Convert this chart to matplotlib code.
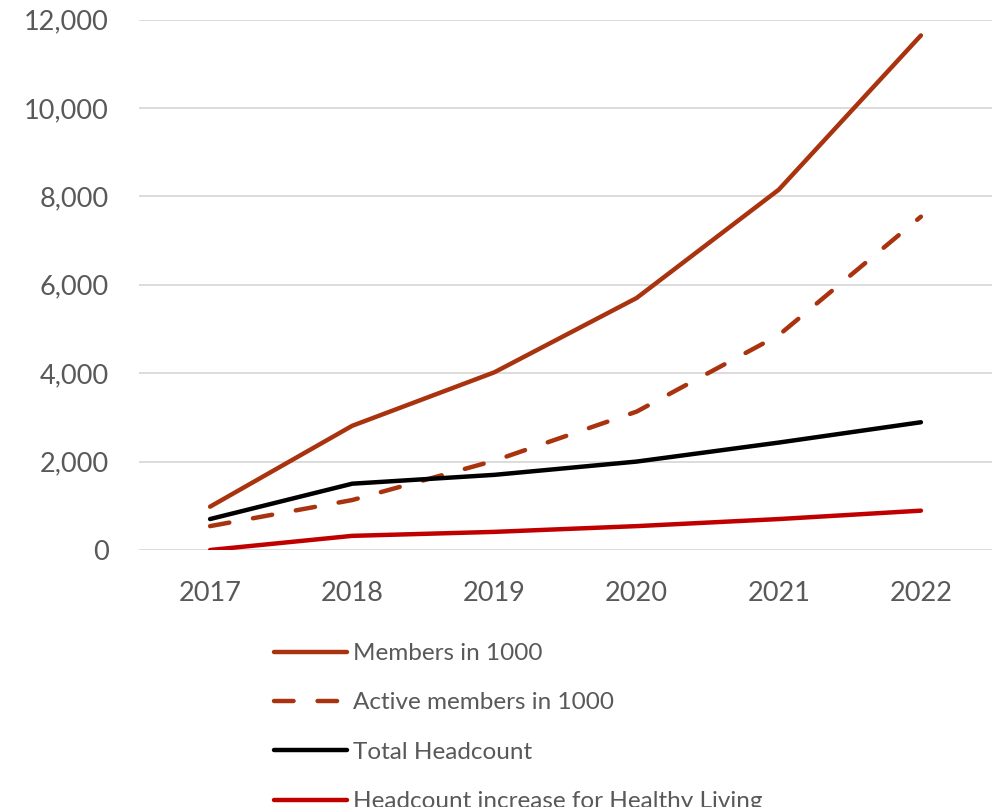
import matplotlib
matplotlib.use("Agg")
import matplotlib.pyplot as plt
from matplotlib.ticker import FuncFormatter

years = ["2017", "2018", "2019", "2020", "2021", "2022"]
members = [980, 2810, 4020, 5700, 8150, 11640]
active_members = [540, 1130, 2020, 3130, 4860, 7540]
total_headcount = [700, 1500, 1700, 2000, 2430, 2890]
healthy_living = [0, 320, 410, 540, 700, 890]
yticks = [0, 2000, 4000, 6000, 8000, 10000, 12000]

plt.rcParams['font.family'] = ['Lato', 'DejaVu Sans']

W, H = 995, 807
fig = plt.figure(figsize=(W / 100, H / 100), dpi=100)
ax = fig.add_axes([139 / W, 1 - 550 / H, (992 - 139) / W, (550 - 19.5) / H])

x = list(range(len(years)))
lw = 3.2
l1, = ax.plot(x, members, color="#A9330F", lw=lw, solid_capstyle="round", solid_joinstyle="round",
              label="Members in 1000")
l2, = ax.plot(x, active_members, color="#A9330F", lw=lw, dash_capstyle="round",
              dashes=(4.4, 5.4), label="Active members in 1000")
l3, = ax.plot(x, total_headcount, color="#000000", lw=lw, solid_capstyle="round", solid_joinstyle="round",
              label="Total Headcount")
l4, = ax.plot(x, healthy_living, color="#C00000", lw=lw, solid_capstyle="round", solid_joinstyle="round",
              label="Headcount increase for Healthy Living")

ax.set_xlim(-0.5, len(years) - 0.5)
ax.set_ylim(0, 12000)
ax.set_xticks(x)
ax.set_xticklabels(years)
ax.set_yticks(yticks)
ax.yaxis.set_major_formatter(FuncFormatter(lambda v, p: f"{int(v):,}"))
ax.grid(axis="y", color="#D9D9D9", lw=1.3)
ax.set_axisbelow(True)
for s in ax.spines.values():
    s.set_visible(False)
ax.tick_params(axis="both", length=0, labelsize=19.5, colors="#595959")
ax.tick_params(axis="y", pad=22)
ax.tick_params(axis="x", pad=22)

leg = fig.legend(handles=[l1, l2, l3, l4], loc="upper left",
                 bbox_to_anchor=(274 / W, 1 - 643 / H), frameon=False,
                 fontsize=17.5, handlelength=3.0, handletextpad=0.25,
                 labelspacing=1.17, borderpad=0, borderaxespad=0)
for t in leg.get_texts():
    t.set_color("#595959")

fig.savefig("out.png", dpi=100)
